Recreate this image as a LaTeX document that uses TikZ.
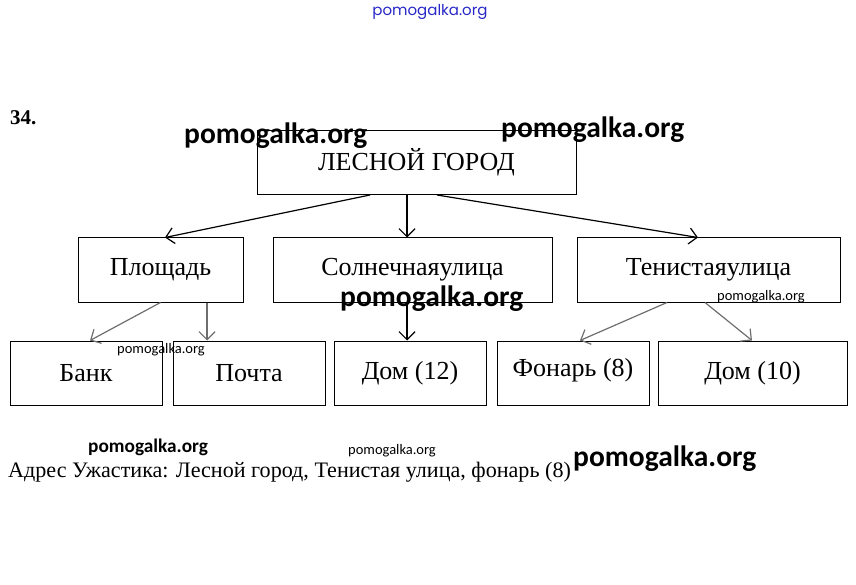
\documentclass[tikz,border=0pt]{standalone}
\usepackage{fontspec}
\setmainfont{Liberation Serif}
\newfontfamily\wmfont{Carlito}
\newfontfamily\bluefont{Poppins}
\usetikzlibrary{arrows.meta,calc}
\definecolor{wmblue}{RGB}{40,40,200}
\definecolor{fadegray}{RGB}{110,110,110}
\tikzset{
  box/.style={draw, line width=1pt, rectangle, inner sep=0pt, minimum height=64pt, font=\fontsize{26}{28}\selectfont},
  conn/.style={line width=1.2pt, -{Straight Barb[length=8pt,width=16pt,line width=1.2pt]}},
  fconn/.style={conn, draw=fadegray},
  wmbig/.style={anchor=base west, inner sep=0pt, font=\wmfont\bfseries\fontsize{29.5}{31}\selectfont},
  wmmid/.style={anchor=base west, inner sep=0pt, font=\wmfont\bfseries\fontsize{19.3}{21}\selectfont},
  wmsmall/.style={anchor=base west, inner sep=0pt, font=\wmfont\fontsize{14.5}{16}\selectfont},
}
\begin{document}
\begin{tikzpicture}[x=1pt,y=-1pt]
\useasboundingbox (0,0) rectangle (856,585);
% top blue watermark
\node[inner sep=0pt, text=wmblue, font=\bluefont\fontsize{15}{16}\selectfont] (wtop) at (430,12) {pomogalka.org};
% number
\node[anchor=base west, inner sep=0pt, font=\bfseries\fontsize{21}{23}\selectfont] (num) at (10,125) {34.};
% boxes
\node[box, minimum width=319pt] (top) at (416.5,162.5) {ЛЕСНОЙ ГОРОД};
\node[box, minimum width=165pt] (plo) at (160.5,270) {Площадь};
\node[box, minimum width=279pt] (sol) at (412.5,270) {Солнечнаяулица};
\node[box, minimum width=263pt] (ten) at (708.5,270) {Тенистаяулица};
\node[box, minimum width=152pt] (bank) at (86,373) {Банк};
\node[box, minimum width=152pt] (pochta) at (249,373) {Почта};
\node[box, minimum width=152pt] (dom12) at (410,373) {Дом (12)};
\node[box, minimum width=152pt] (fonar) at (573,373) {\raisebox{12pt}{Фонарь (8)}};
\node[box, minimum width=189pt] (dom10) at (752.5,373) {Дом (10)};
% connectors
\draw[conn] ([xshift=-46.5pt]top.south) -- ([xshift=4.5pt]plo.north);
\draw[conn] ([xshift=-9.5pt]top.south) -- ([xshift=-5.5pt]sol.north);
\draw[conn] ([xshift=20.5pt]top.south) -- ([xshift=-10.5pt]ten.north);
\draw[fconn] (plo.south) -- ([xshift=4pt]bank.north);
\draw[fconn] ([xshift=46.5pt]plo.south) -- ([xshift=-42pt]pochta.north);
\draw[conn] ([xshift=-5.5pt]sol.south) -- ([xshift=-3pt]dom12.north);
\draw[fconn] ([xshift=-41.5pt]ten.south) -- ([xshift=7pt]fonar.north);
\draw[fconn] ([xshift=-3.5pt]ten.south) -- ([xshift=-0.5pt]dom10.north);
% answer
\node[anchor=base west, inner sep=0pt, font=\fontsize{22.1}{24}\selectfont] (ans) at (8,477) {Адрес Ужастика: Лесной город, Тенистая улица, фонарь (8)};
% watermarks
\node[wmbig] (w1) at (184,144) {pomogalka.org};
\node[wmbig] (w2) at (501,138) {pomogalka.org};
\node[wmbig] (w3) at (340,306) {pomogalka.org};
\node[wmbig] (w4) at (573,466) {pomogalka.org};
\node[wmmid] (w5) at (88,452) {pomogalka.org};
\node[wmsmall] (w6) at (348,454) {pomogalka.org};
\node[wmsmall] (w7) at (717,300) {pomogalka.org};
\node[wmsmall] (w8) at (117,353) {pomogalka.org};
\end{tikzpicture}
\end{document}
